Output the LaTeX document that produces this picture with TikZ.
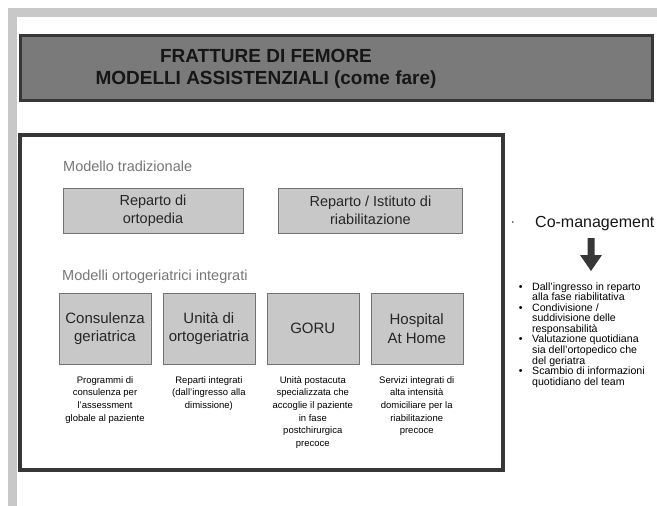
\documentclass[tikz,border=0pt]{standalone}
\usepackage{fontspec}
\setmainfont{Liberation Sans}
\usepackage{tikz}
\usetikzlibrary{positioning}
\definecolor{framegray}{RGB}{200,200,200}
\definecolor{titlefill}{RGB}{122,122,122}
\definecolor{titleink}{RGB}{22,22,22}
\definecolor{darkline}{RGB}{55,55,55}
\definecolor{boxfill}{RGB}{200,200,200}
\definecolor{boxline}{RGB}{115,115,115}
\definecolor{caption}{RGB}{118,118,118}
\definecolor{ink}{RGB}{38,38,38}
\newcommand{\fsz}[2]{\fontsize{#1}{#2}\selectfont}

\begin{document}
\begin{tikzpicture}[
  x=1pt, y=-1pt,
  every node/.style={inner sep=0pt, text=ink},
  model/.style={draw=boxline, fill=boxfill, align=center},
  oldmodel/.style={model, minimum height=45pt, font=\fsz{14.5}{17.5}},
  newmodel/.style={model, minimum width=92pt, minimum height=71pt, font=\fsz{15}{18.5}},
  heading/.style={anchor=west, text=caption, font=\fsz{14.5}{17}},
  desc/.style={align=center, text=black, font=\fsz{9.5}{12.6}},
  point/.style={anchor=north west, align=left, text=black, font=\fsz{10.6}{10.56}}
]
  \clip (0,0) rectangle (657,506);
  % slide frame
  \fill[framegray] (8,8) rectangle (657,17);
  \fill[framegray] (8,8) rectangle (17,506);

  % title bar
  \draw[darkline, line width=3.5pt, fill=titlefill] (20.5,35.5) rectangle (652.5,100.5);
  \node[align=center, text=titleink, font=\bfseries\fsz{19}{22}] (title) at (266,69)
    {FRATTURE DI FEMORE\\MODELLI ASSISTENZIALI (come fare)};

  % panel with the models
  \draw[darkline, line width=4pt] (20,135) rectangle (503,470);

  \node[heading] (trad) at (63,166) {Modello tradizionale};
  \node[oldmodel, minimum width=180pt] (orto) at (153,210.5) {Reparto di\\ortopedia};
  \node[oldmodel, minimum width=184pt, right=35pt of orto] (riab) {Reparto / Istituto di\\riabilitazione};

  \node[heading] (integr) at (62,277) {Modelli ortogeriatrici integrati};
  \node[newmodel] (cons) at (105,328.5) {Consulenza\\geriatrica};
  \node[newmodel, right=11.5pt of cons] (unita) {Unità di\\ortogeriatria};
  \node[newmodel, right=11.5pt of unita] (goru) {GORU};
  \node[newmodel, right=11.5pt of goru] (hah) {Hospital\\At Home};

  \node[desc, below=12pt of cons] (consd)
    {Programmi di\\consulenza per\\l'assessment\\globale al paziente};
  \node[desc, below=12pt of unita] (unitad)
    {Reparti integrati\\(dall'ingresso alla\\dimissione)};
  \node[desc, below=12pt of goru] (gorud)
    {Unità postacuta\\specializzata che\\accoglie il paziente\\in fase\\postchirurgica\\precoce};
  \node[desc, below=12pt of hah] (hahd)
    {Servizi integrati di\\alta intensità\\domiciliare per la\\riabilitazione\\precoce};

  % co-management column
  \node[font=\fsz{6}{6}] (dot) at (513,223) {•};
  \node[anchor=west, text=titleink, font=\fsz{16}{18}] (coman) at (535,224) {Co-management};
  \fill[darkline] (587.5,238) -- (594.5,238) -- (594.5,255) -- (602,255)
    -- (591,271) -- (580,255) -- (587.5,255) -- cycle;

  \node[point] (p1) at (532,282.3)
    {\llap{•\hspace{9.5pt}}Dall'ingresso in reparto\\alla fase riabilitativa};
  \node[point] (p2) at (532,303.4)
    {\llap{•\hspace{9.5pt}}Condivisione /\\suddivisione delle\\responsabilità};
  \node[point] (p3) at (532,335.1)
    {\llap{•\hspace{9.5pt}}Valutazione quotidiana\\sia dell'ortopedico che\\del geriatra};
  \node[point] (p4) at (532,366.8)
    {\llap{•\hspace{9.5pt}}Scambio di informazioni\\quotidiano del  team};
\end{tikzpicture}
\end{document}
